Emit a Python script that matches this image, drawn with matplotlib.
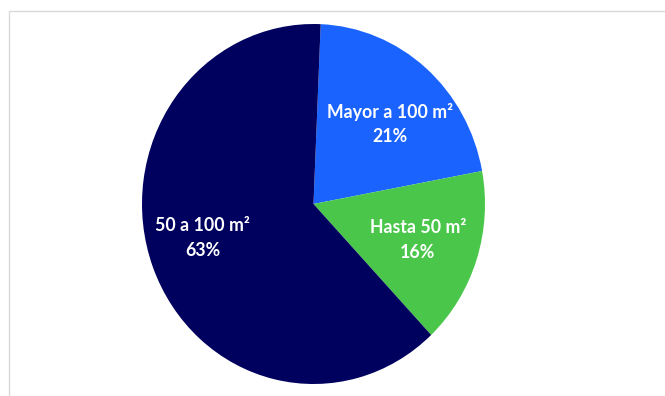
import matplotlib.pyplot as plt
from matplotlib.patches import Rectangle

# pie data (clockwise from top)
categories = ['Mayor a 100 m²', 'Hasta 50 m²', '50 a 100 m²']
shares = [21.4, 15.9, 62.7]
colors = ['#1A63FF', '#4AC74B', '#00005E']

plt.rcParams['font.family'] = ['Lato', 'DejaVu Sans']

fig = plt.figure(figsize=(6.65, 3.96), dpi=100)

# light chart-area border (only left and top edges are visible)
fig.add_artist(Rectangle((9 / 665, -0.2), 1.2, 1.2 - 11 / 396,
                         transform=fig.transFigure, fill=False,
                         edgecolor='#D9D9D9', linewidth=1.0))

ax = fig.add_axes([142 / 665, 12 / 396, 343 / 665, 360 / 396])

labels_iter = iter(categories)


def fmt(pct):
    return f'{next(labels_iter)}\n{pct:.0f}%'


wedges, texts, autotexts = ax.pie(
    shares, colors=colors, startangle=87.6, counterclock=False,
    autopct=fmt, pctdistance=0.64, radius=1.0,
    textprops=dict(color='white', fontsize=12.8, fontweight='bold',
                   linespacing=1.55),
    wedgeprops=dict(linewidth=0))
for t in autotexts:
    t.set_horizontalalignment('center')

# nudge labels toward Excel's best-fit placement
x, y = autotexts[0].get_position()
autotexts[0].set_position((x * 1.07, y * 0.92))
x, y = autotexts[2].get_position()
autotexts[2].set_position((x * 1.08, y * 0.85))

ax.set_aspect('auto')
ax.set_xlim(-1, 1)
ax.set_ylim(-1, 1)
ax.axis('off')

plt.savefig('out.png', dpi=100)
plt.close()
